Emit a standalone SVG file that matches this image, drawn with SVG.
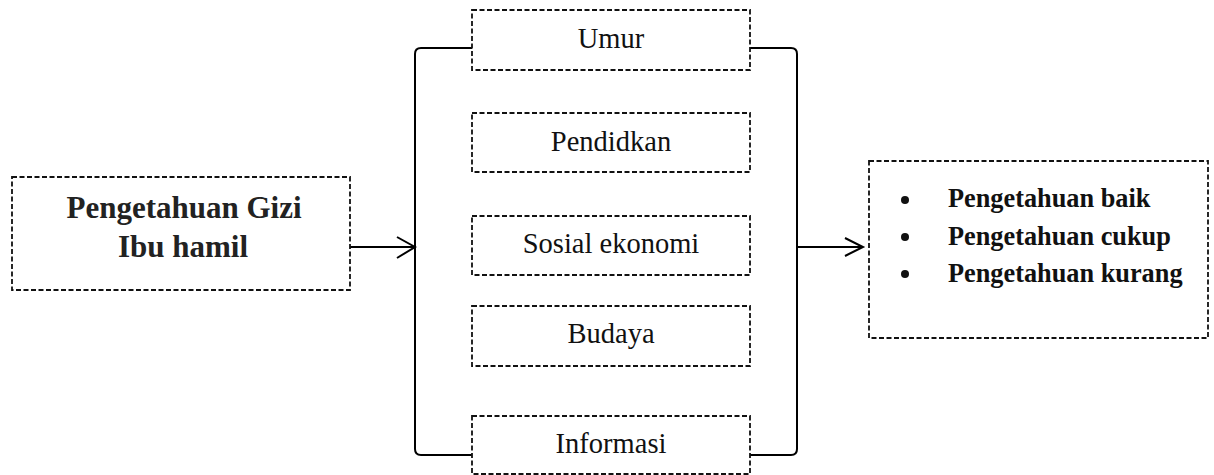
<svg xmlns="http://www.w3.org/2000/svg" width="1214" height="475" viewBox="0 0 1214 475">
<style>
.box{fill:#fff;stroke:#111;stroke-width:1.8;stroke-dasharray:5 2.5}
.ln{fill:none;stroke:#000;stroke-width:2}
.mid{font-family:'Liberation Serif','Times New Roman',Times,serif;font-size:28.5px;fill:#111;text-anchor:middle}
.bold{font-family:'Liberation Serif','Times New Roman',Times,serif;font-weight:bold;fill:#222}
.item{font-size:26.3px;fill:#111}
</style>
<rect width="1214" height="475" fill="#fff"/>
<g id="connectors">
<path class="ln" d="M472,48 L421,48 Q415,48 415,54 L415,449 Q415,455 421,455 L472,455"/>
<path class="ln" d="M750,48 L791,48 Q797,48 797,54 L797,449 Q797,455 791,455 L750,455"/>
<path class="ln" d="M350,247 L414,247 M397,237 L415,247 L397,258"/>
<path class="ln" d="M797,247 L862,247 M845,238 L863,247 L845,256"/>
</g>
<g id="input">
<rect class="box" x="12" y="177" width="338" height="113"/>
<text class="bold" x="184" y="218" font-size="31" text-anchor="middle">Pengetahuan Gizi</text>
<text class="bold" x="183" y="257" font-size="31" text-anchor="middle">Ibu hamil</text>
</g>
<g id="umur">
<rect class="box" x="472" y="10" width="278" height="60"/>
<text class="mid" x="611" y="48">Umur</text>
</g>
<g id="pendidkan">
<rect class="box" x="472" y="113" width="278" height="59"/>
<text class="mid" x="611" y="151">Pendidkan</text>
</g>
<g id="sosial">
<rect class="box" x="472" y="216" width="278" height="59"/>
<text class="mid" x="611" y="253">Sosial ekonomi</text>
</g>
<g id="budaya">
<rect class="box" x="472" y="306" width="278" height="60"/>
<text class="mid" x="611" y="343">Budaya</text>
</g>
<g id="informasi">
<rect class="box" x="472" y="416" width="278" height="58"/>
<text class="mid" x="611" y="453">Informasi</text>
</g>
<g id="output">
<rect class="box" x="869" y="161" width="339" height="177"/>
<circle cx="905" cy="200" r="4" fill="#111"/>
<circle cx="905" cy="237" r="4" fill="#111"/>
<circle cx="905" cy="274" r="4" fill="#111"/>
<text class="bold item" x="948" y="207">Pengetahuan baik</text>
<text class="bold item" x="948" y="245">Pengetahuan cukup</text>
<text class="bold item" x="948" y="282">Pengetahuan kurang</text>
</g>
</svg>
